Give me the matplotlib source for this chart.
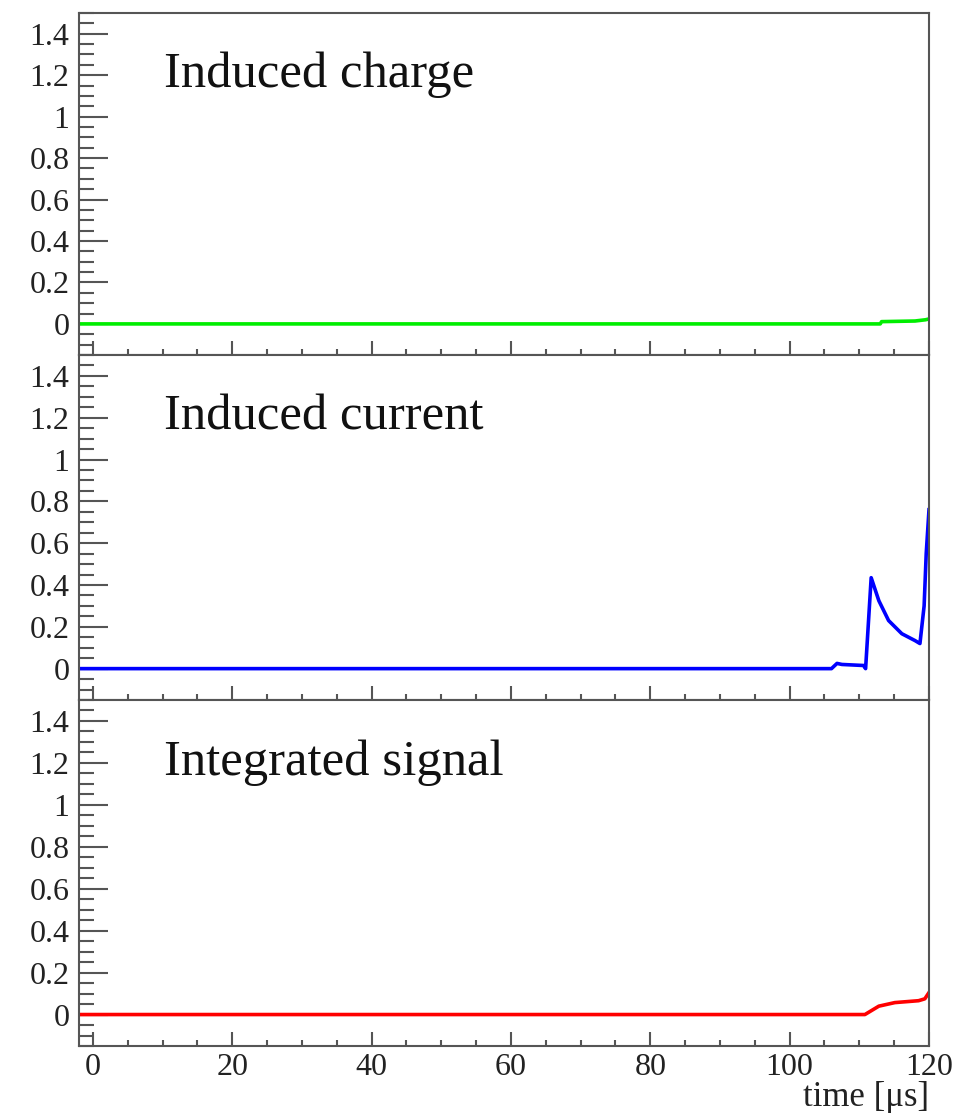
import matplotlib
matplotlib.use("Agg")
import matplotlib.pyplot as plt
from matplotlib.ticker import MultipleLocator

# ---- data ----
charge_t = [-2, 113.0, 113.2, 118.0, 119.5, 120.0]
charge_v = [0.0, 0.0, 0.011, 0.014, 0.020, 0.024]

current_t = [-2, 106.0, 106.8, 107.5, 110.6, 110.9, 111.7, 112.8, 114.2, 116.1, 118.0, 118.7, 119.3, 119.6, 120.0]
current_v = [0.0, 0.0, 0.025, 0.02, 0.015, 0.0, 0.435, 0.325, 0.23, 0.167, 0.134, 0.12, 0.30, 0.55, 0.76]

signal_t = [-2, 110.8, 112.8, 115.1, 118.5, 119.4, 120.0]
signal_v = [0.0, 0.0, 0.040, 0.057, 0.066, 0.075, 0.105]

titles = ["Induced charge", "Induced current", "Integrated signal"]
colors = ["#00ee00", "#0000ff", "#ff0000"]
xlabel = "time [\u03bcs]"

series = [(charge_t, charge_v), (current_t, current_v), (signal_t, signal_v)]

W, H = 957, 1113
fig = plt.figure(figsize=(W / 100, H / 100), dpi=100)
serif = ["Liberation Serif", "DejaVu Serif"]

left, right = 79 / W, 929 / W
edges = [(13, 355), (355, 700), (700, 1046)]
frame_col = "#555555"

for i, ((t, v), title, col) in enumerate(zip(series, titles, colors)):
    top, bot = edges[i]
    ax = fig.add_axes([left, 1 - bot / H, right - left, (bot - top) / H])
    ax.plot(t, v, color=col, lw=2.6)
    ax.set_xlim(-2, 120)
    ax.set_ylim(-0.15, 1.5)
    ax.yaxis.set_major_locator(MultipleLocator(0.2))
    ax.yaxis.set_minor_locator(MultipleLocator(0.05))
    ax.xaxis.set_major_locator(MultipleLocator(20))
    ax.xaxis.set_minor_locator(MultipleLocator(5))
    for s in ax.spines.values():
        s.set_color(frame_col)
        s.set_linewidth(1.5)
    ax.tick_params(axis="y", which="major", direction="in", length=21, width=1.5,
                   color=frame_col, labelsize=23, pad=7, right=False)
    ax.tick_params(axis="y", which="minor", direction="in", length=11, width=1.5,
                   color=frame_col, right=False)
    ax.tick_params(axis="x", which="major", direction="in", length=10, width=1.5,
                   color=frame_col, labelsize=23, pad=5, top=False)
    ax.tick_params(axis="x", which="minor", direction="in", length=4, width=1.5,
                   color=frame_col, top=False)
    ax.set_yticklabels([("%g" % y) if y >= -1e-9 else "" for y in ax.get_yticks()],
                       family=serif, color="#222222")
    if i < 2:
        ax.tick_params(axis="x", labelbottom=False)
    else:
        ax.set_xticklabels(["%g" % x for x in ax.get_xticks()], family=serif,
                           color="#222222")
        ax.set_xlabel(xlabel, family=serif, fontsize=25, loc="right", labelpad=-1,
                      color="#222222")
    ax.text(0.1, 0.82, title, transform=ax.transAxes, family=serif, fontsize=36.5,
            ha="left", va="center", color="#111111")

fig.savefig("out.png", dpi=100)
